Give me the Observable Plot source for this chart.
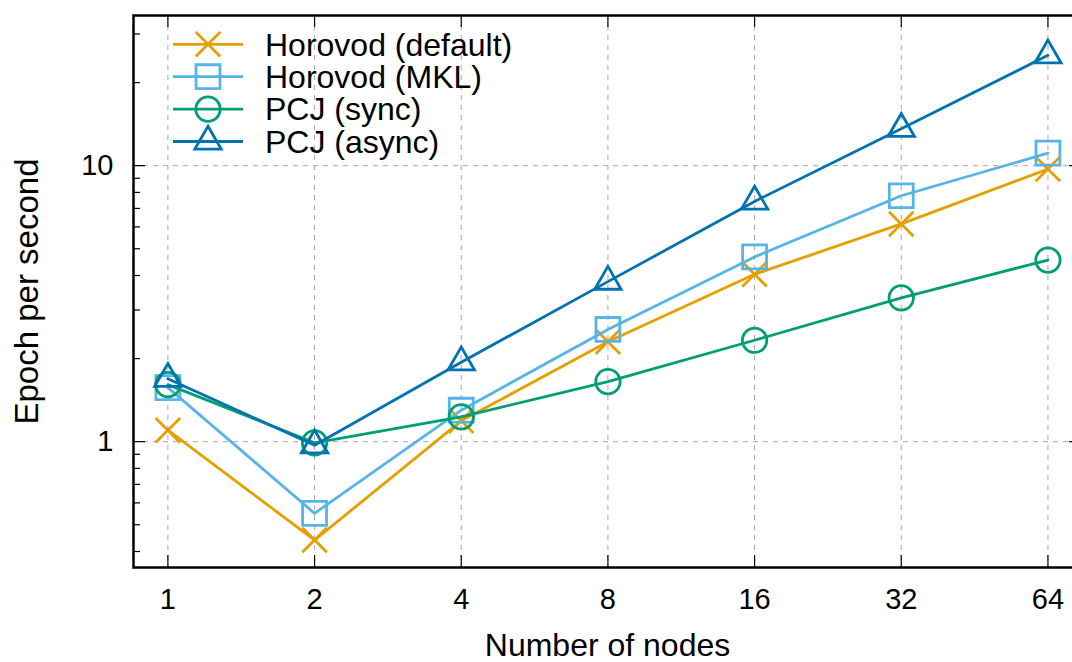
<!DOCTYPE html>
<html>
<head>
<meta charset="utf-8">
<script src="https://cdn.jsdelivr.net/npm/d3@7"></script>
<script src="https://cdn.jsdelivr.net/npm/@observablehq/plot@0.6"></script>
<style>
  html, body { margin: 0; padding: 0; background: #fff; }
  #chart { width: 1072px; height: 662px; overflow: hidden; position: relative; }
  #chart svg { display: block; }
</style>
</head>
<body>
<div id="chart"></div>
<script>
// ---- Data ----
const nodes = [1, 2, 4, 8, 16, 32, 64];
const xTickLabels = ["1", "2", "4", "8", "16", "32", "64"];
const horovodDefault = [1.10, 0.44, 1.19, 2.30, 4.04, 6.15, 9.72];
const horovodMKL     = [1.57, 0.55, 1.30, 2.55, 4.67, 7.78, 11.1];
const pcjSync        = [1.61, 0.99, 1.23, 1.65, 2.33, 3.32, 4.55];
const pcjAsync       = [1.69, 0.97, 1.94, 3.80, 7.42, 13.6, 25.1];

const seriesNames   = ["Horovod (default)", "Horovod (MKL)", "PCJ (sync)", "PCJ (async)"];
const seriesValues  = [horovodDefault, horovodMKL, pcjSync, pcjAsync];
const seriesColors  = ["#E69F00", "#56B4E9", "#009E73", "#0072B2"];
const seriesSymbols = ["times", "square", "circle", "triangle"];
const seriesRadii   = [11.2, 13.5, 12.2, 9.8];

const yMajorTicks = [1, 10];
const yTickLabels = ["1", "10"];
const yMinorTicks = [0.4, 0.5, 0.6, 0.7, 0.8, 0.9, 2, 3, 4, 5, 6, 7, 8, 9, 20, 30];

const xTitle = "Number of nodes";
const yTitle = "Epoch per second";

// ---- Layout ----
const W = 1072, H = 662;
const mL = 133, mR = -9, mT = 15, mB = 95;
const pw = W - mL - mR, ph = H - mT - mB;
const FONT = "'Liberation Sans', Arial, Helvetica, sans-serif";

const rows = [];
seriesNames.forEach((name, si) => {
  nodes.forEach((n, i) => rows.push({series: name, si, nodes: n, value: seriesValues[si][i]}));
});

const gridStyle = {stroke: "#a8a8a8", strokeOpacity: 1, strokeWidth: 1, strokeDasharray: "5,5"};
const tickStyle = {stroke: "black", strokeOpacity: 1, strokeWidth: 1.2};

const marks = [
  Plot.gridX(nodes, gridStyle),
  Plot.gridY(yMajorTicks, gridStyle),
  // inward ticks (gnuplot style, mirrored)
  Plot.tickX(nodes, {x: d => d, insetTop: ph - 12, ...tickStyle}),
  Plot.tickX(nodes, {x: d => d, insetBottom: ph - 12, ...tickStyle}),
  Plot.tickY(yMajorTicks, {y: d => d, insetRight: pw - 12, ...tickStyle}),
  Plot.tickY(yMajorTicks, {y: d => d, insetLeft: pw - 12, ...tickStyle}),
  Plot.tickY(yMinorTicks, {y: d => d, insetRight: pw - 7, ...tickStyle}),
  Plot.tickY(yMinorTicks, {y: d => d, insetLeft: pw - 7, ...tickStyle}),
  Plot.axisX(nodes, {tickSize: 0, tickPadding: 21, fontSize: 29, label: null,
    tickFormat: d => xTickLabels[nodes.indexOf(d)]}),
  Plot.axisY(yMajorTicks, {tickSize: 0, tickPadding: 20, fontSize: 29, label: null,
    tickFormat: d => yTickLabels[yMajorTicks.indexOf(d)]}),
  Plot.text([xTitle], {text: d => d, frameAnchor: "bottom", dy: 88, fontSize: 32, fill: "black", textAnchor: "middle"}),
  Plot.text([yTitle], {text: d => d, frameAnchor: "left", dx: -106, rotate: -90, fontSize: 33, fill: "black", textAnchor: "middle"})
];

seriesNames.forEach((name, si) => {
  const d = rows.filter(r => r.si === si);
  marks.push(Plot.line(d, {x: "nodes", y: "value", stroke: seriesColors[si], strokeWidth: 2.8}));
  marks.push(Plot.dot(d, {x: "nodes", y: "value", symbol: seriesSymbols[si], r: seriesRadii[si],
    stroke: seriesColors[si], strokeWidth: 2.8, fill: "none"}));
});

marks.push(Plot.frame({stroke: "black", strokeWidth: 2.5}));

const chart = Plot.plot({
  width: W, height: H,
  marginLeft: mL, marginRight: mR, marginTop: mT, marginBottom: mB,
  style: {fontFamily: FONT, fontSize: "29px", color: "black", background: "white", overflow: "hidden"},
  x: {type: "log", base: 2, domain: [0.85, 75]},
  y: {type: "log", domain: [0.35, 35]},
  marks
});

document.getElementById("chart").appendChild(chart);

// ---- Legend (inside plot area, top-left) ----
const svg = d3.select(chart);
const lg = svg.append("g").attr("class", "legend");
const symbolMap = {times: d3.symbolTimes, square: d3.symbolSquare, circle: d3.symbolCircle, triangle: d3.symbolTriangle};
seriesNames.forEach((name, si) => {
  const y = 44.3 + si * 32.4;
  const g = lg.append("g");
  g.append("line").attr("x1", 173).attr("x2", 243).attr("y1", y).attr("y2", y)
    .attr("stroke", seriesColors[si]).attr("stroke-width", 2.8);
  const r = seriesRadii[si];
  g.append("path")
    .attr("transform", `translate(208,${y})`)
    .attr("d", d3.symbol(symbolMap[seriesSymbols[si]], Math.PI * r * r)())
    .attr("fill", "none").attr("stroke", seriesColors[si]).attr("stroke-width", 2.8);
  g.append("text").attr("x", 265).attr("y", y).attr("dy", "0.35em")
    .attr("text-anchor", "start")
    .attr("font-size", 32).attr("font-family", FONT).attr("fill", "black").text(name);
});
</script>
</body>
</html>
